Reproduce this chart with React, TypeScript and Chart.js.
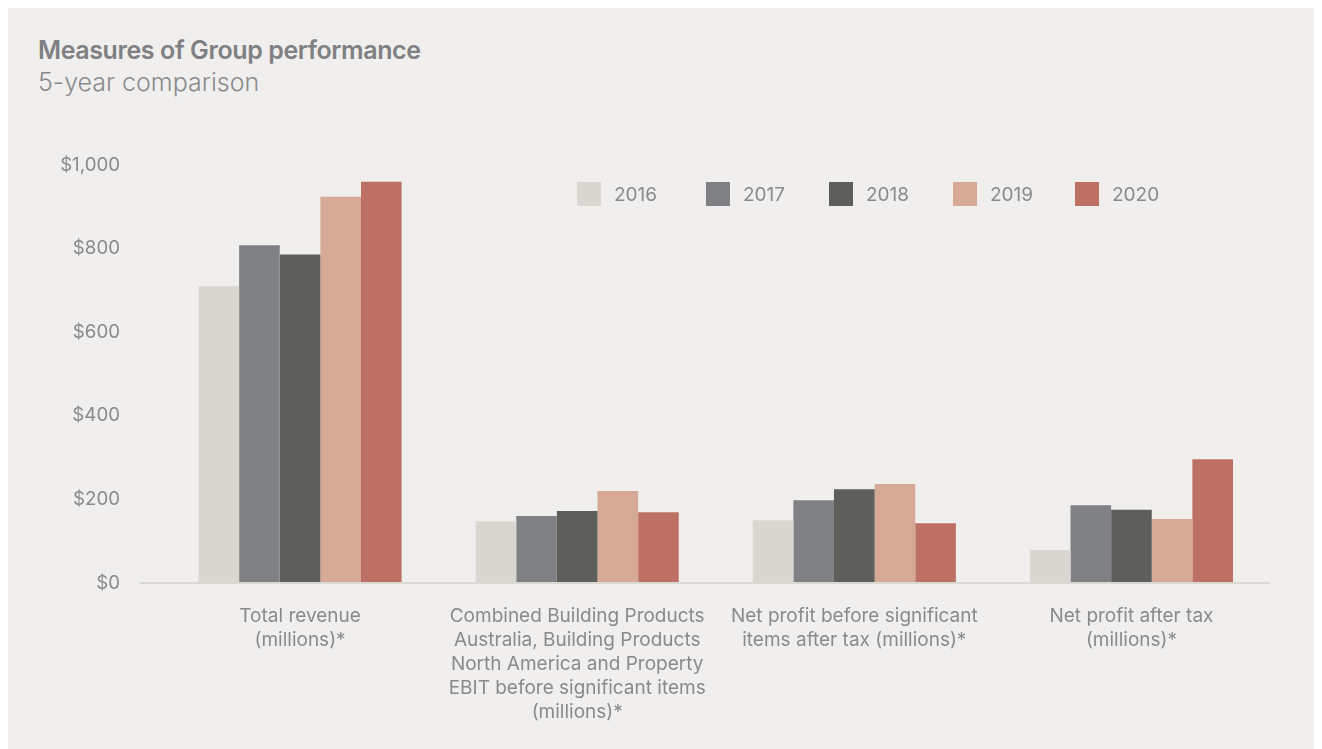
import React, { useEffect, useRef } from "react";
import { Chart, registerables } from "chart.js";

Chart.register(...registerables);

const categories: string[][] = [
  ["Total revenue", "(millions)*"],
  [
    "Combined Building Products",
    "Australia, Building Products",
    "North America and Property",
    "EBIT before significant items",
    "(millions)*",
  ],
  ["Net profit before significant", "items after tax (millions)*"],
  ["Net profit after tax", "(millions)*"],
];

const years = ["2016", "2017", "2018", "2019", "2020"];

const values2016 = [710, 148, 150, 79];
const values2017 = [808, 160, 198, 186];
const values2018 = [786, 172, 224, 175];
const values2019 = [924, 220, 237, 153];
const values2020 = [960, 169, 143, 296];

const seriesValues = [values2016, values2017, values2018, values2019, values2020];
const seriesColors = ["#d9d7d0", "#808184", "#5e5f5a", "#d6a896", "#bc7164"];

const yTicks = [0, 200, 400, 600, 800, 1000];

const TEXT = "#8a8a8c";
const FONT = "Inter, 'Noto Sans', sans-serif";

const legendLeft = [569, 698, 821, 945, 1067];

export default function App() {
  const canvasRef = useRef<HTMLCanvasElement | null>(null);

  useEffect(() => {
    document.body.style.overflow = "hidden";
    document.documentElement.style.overflow = "hidden";
    const canvas = canvasRef.current;
    if (!canvas) return;
    const chart = new Chart(canvas, {
      type: "bar",
      data: {
        labels: categories,
        datasets: years.map((y, i) => ({
          label: y,
          data: seriesValues[i],
          backgroundColor: seriesColors[i],
          borderWidth: 0,
          categoryPercentage: 0.733,
          barPercentage: 1,
        })),
      },
      options: {
        responsive: false,
        animation: false,
        layout: { padding: { left: 0, right: 52, top: 157, bottom: 0 } },
        plugins: {
          legend: { display: false },
          tooltip: { enabled: false },
          title: { display: false },
        },
        scales: {
          x: {
            afterFit: (scale: any) => {
              scale.height = 166;
            },
            grid: { display: false, drawTicks: false },
            border: { display: false },
            ticks: {
              color: TEXT,
              font: { family: FONT, size: 19, lineHeight: 24 / 19 },
              padding: 21,
              maxRotation: 0,
              autoSkip: false,
            },
          },
          y: {
            min: 0,
            max: 1000,
            afterFit: (scale: any) => {
              scale.width = 153.5;
            },
            afterBuildTicks: (scale: any) => {
              scale.ticks = yTicks.map((v) => ({ value: v }));
            },
            border: { display: false },
            grid: {
              color: (c: any) =>
                c.tick && c.tick.value === 0 ? "#d9d8d3" : "rgba(0,0,0,0)",
              lineWidth: 2,
              drawTicks: true,
              tickLength: 22,
            },
            ticks: {
              color: TEXT,
              font: { family: FONT, size: 18.7 },
              padding: 19.5,
              callback: (v: any) => "$" + Number(v).toLocaleString("en-US"),
            },
          },
        },
      },
    });
    return () => chart.destroy();
  }, []);

  return (
    <div
      style={{
        position: "relative",
        width: 1322,
        height: 741,
        background: "#f0efed",
        overflow: "hidden",
        fontFamily: FONT,
      }}
    >
      <div
        style={{
          position: "absolute",
          left: 30,
          top: 30,
          fontSize: 25,
          lineHeight: "25px",
          fontWeight: 600,
          color: "#7f8083",
          letterSpacing: "-0.4px",
          whiteSpace: "nowrap",
        }}
      >
        Measures of Group performance
      </div>
      <div
        style={{
          position: "absolute",
          left: 30,
          top: 62,
          fontSize: 25,
          lineHeight: "25px",
          fontWeight: 300,
          color: TEXT,
          whiteSpace: "nowrap",
        }}
      >
        5-year comparison
      </div>
      <canvas
        ref={canvasRef}
        width={1314}
        height={741}
        style={{ position: "absolute", left: 0, top: 0, width: 1314, height: 741 }}
      />
      {years.map((y, i) => (
        <div
          key={y}
          style={{
            position: "absolute",
            left: legendLeft[i],
            top: 174,
            display: "flex",
            alignItems: "center",
            height: 24,
            whiteSpace: "nowrap",
          }}
        >
          <span
            style={{
              display: "inline-block",
              width: 24,
              height: 24,
              background: seriesColors[i],
              marginRight: 13,
            }}
          />
          <span style={{ fontSize: 19, color: TEXT, fontWeight: 400 }}>{y}</span>
        </div>
      ))}
    </div>
  );
}
